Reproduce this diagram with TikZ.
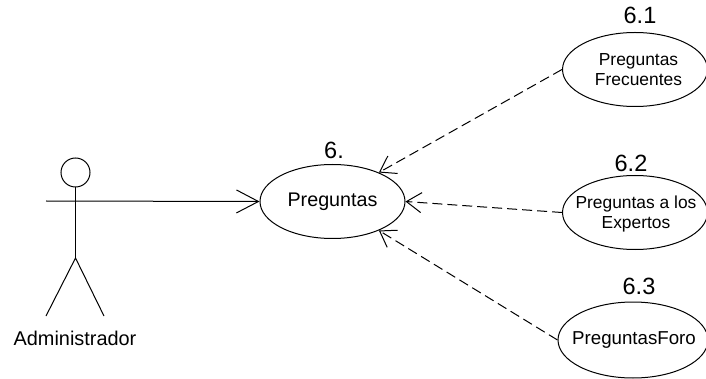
\documentclass[tikz,border=0pt]{standalone}
\usepackage{fontspec}
\setmainfont{Liberation Sans}
\usetikzlibrary{shapes.geometric,arrows.meta}
\tikzset{
  caso/.style={draw,ellipse,inner sep=-12pt,minimum width=145pt,minimum height=74pt,align=center},
  numero/.style={font=\fontsize{23.5}{25}\selectfont},
  texto/.style={font=\fontsize{17.4}{20}\selectfont},
  extiende/.style={dashed,dash pattern=on 10pt off 5pt,-{Straight Barb[length=15pt,width=20pt]}}
}
\begin{document}
\begin{tikzpicture}[x=1pt,y=-1pt,line width=1pt]
  \useasboundingbox (0,0) rectangle (706,379);

  \draw (332.5,201.5) node[caso,font=\fontsize{19.7}{22}\selectfont] (prg) {Preguntas};
  \draw (635,69.5) node[caso,texto] (frec) {\hspace*{7pt}Preguntas\\\hspace*{7pt}Frecuentes};
  \draw (635,212.5) node[caso,texto] (expe) {\hspace*{2pt}\raisebox{-2pt}[\height][\depth]{Preguntas a los}\\\hspace*{2pt}\raisebox{-2pt}[\height][\depth]{Expertos}};
  \draw (633,340) node[caso,minimum width=150pt,minimum height=76pt,font=\fontsize{18.7}{22}\selectfont] (foro) {\hspace*{2pt}PreguntasForo};

  \draw (334,150) node[numero] (nprg) {6.};
  \draw (640,15) node[numero] (nfrec) {6.1};
  \draw (631,163) node[numero] (nexpe) {6.2};
  \draw (639,286) node[numero] (nforo) {6.3};

  % actor
  \draw (75.5,172.5) node[draw,circle,inner sep=0pt,minimum size=29pt] (cabeza) {};
  \coordinate (brazo) at (46,201);
  \coordinate (cadera) at (75.5,258);
  \coordinate (pieizq) at (46,316);
  \coordinate (pieder) at (104,316);
  \draw (75,338) node[font=\fontsize{19.9}{22}\selectfont] (admin) {Administrador};

  \draw (cabeza) -- (cadera);
  \draw (pieizq) -- (cadera) -- (pieder);

  \draw[-{Straight Barb[length=22pt,width=23pt]}] (brazo) -- (prg.west);
  \draw[extiende] (frec.west) -- (prg.32);
  \draw[extiende] (expe.west) -- (prg.east);
  \draw[extiende] (foro.west) -- (prg.-32);

\end{tikzpicture}
\end{document}
